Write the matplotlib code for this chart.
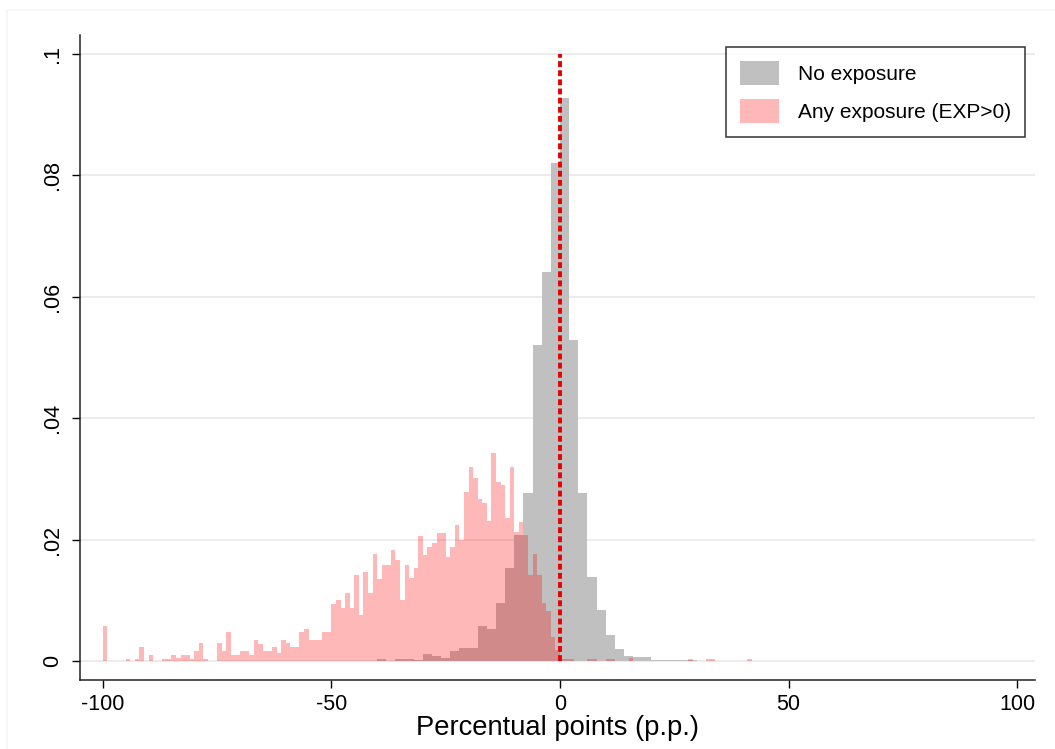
import numpy as np
import matplotlib
matplotlib.use('Agg')
import matplotlib.pyplot as plt
from matplotlib.patches import Patch, Rectangle

plt.rcParams['font.family'] = ['Liberation Sans', 'DejaVu Sans']

# histogram densities, bins of width 1 (any exposure) and width 2 (no exposure)
exp_left = list(range(-100, 42))
exp_dens = [
    0.0058, 0, 0, 0, 0, 0.0004, 0, 0.0003, 0.0023, 0,          # -100 .. -91
    0.0010, 0, 0, 0.0004, 0.0004, 0.0010, 0.0005, 0.0010, 0.0010, 0.0004,  # -90 .. -81
    0.0016, 0.0029, 0.0003, 0, 0, 0.0029, 0.0017, 0.0047, 0.0010, 0.0010,  # -80 .. -71
    0.0017, 0.0017, 0.0010, 0.0035, 0.0028, 0.0016, 0.0017, 0.0023, 0.0013, 0.0035,  # -70 .. -61
    0.0030, 0.0023, 0.0023, 0.0047, 0.0052, 0.0034, 0.0035, 0.0035, 0.0047, 0.0047,  # -60 .. -51
    0.0094, 0.0100, 0.0087, 0.0112, 0.0087, 0.0142, 0.0076, 0.0147, 0.0112, 0.0177,  # -50 .. -41
    0.0135, 0.0158, 0.0158, 0.0183, 0.0166, 0.0100, 0.0158, 0.0137, 0.0153, 0.0206,  # -40 .. -31
    0.0175, 0.0188, 0.0195, 0.0211, 0.0211, 0.0172, 0.0188, 0.0224, 0.0199, 0.0279,  # -30 .. -21
    0.0320, 0.0301, 0.0266, 0.0260, 0.0231, 0.0343, 0.0295, 0.0290, 0.0236, 0.0320,  # -20 .. -11
    0.0212, 0.0229, 0.0208, 0.0142, 0.0177, 0.0142, 0.0095, 0.0082, 0.0040, 0.0018,  # -10 .. -1
    0.0003, 0.0003, 0.0003, 0, 0, 0, 0.0003, 0.0003, 0, 0,          # 0 .. 9
    0.0003, 0.0003, 0, 0, 0, 0.0005, 0, 0, 0, 0,                    # 10 .. 19
    0, 0, 0, 0, 0, 0, 0, 0, 0.0003, 0,                              # 20 .. 29
    0, 0, 0.0003, 0.0003, 0, 0, 0, 0, 0, 0,                         # 30 .. 39
    0, 0.0004,                                                      # 40 .. 41
]

noexp_left = list(range(-40, 30, 2))
noexp_dens = [
    0.0004, 0, 0.0003, 0.0004, 0.0002, 0.0011, 0.0008, 0.0005, 0.0017, 0.0021,   # -40 .. -22
    0.0021, 0.0057, 0.0053, 0.0095, 0.0153, 0.0208, 0.0276, 0.0521, 0.0641, 0.0821,  # -20 .. -2
    0.0927, 0.0529, 0.0276, 0.0138, 0.0084, 0.0043, 0.0020, 0.0008, 0.0007, 0.0007,  # 0 .. 18
    0.0002, 0.0002, 0.0002, 0.0002, 0.0002,                                          # 20 .. 28
]

xticks = [-100, -50, 0, 50, 100]
yticks = [0, 0.02, 0.04, 0.06, 0.08, 0.1]
ytick_labels = ['0', '.02', '.04', '.06', '.08', '.1']

gray = '#c0c0c0'
pink_alpha = 0.28

fig = plt.figure(figsize=(10.55, 7.49), dpi=100)
fig.patches.append(Rectangle((7 / 1055, -0.01), 1, 1.01 - 10 / 749, transform=fig.transFigure,
                             facecolor='none', edgecolor='#f6f6f6', lw=1.2))
ax = fig.add_axes([80 / 1055, 1 - 680 / 749, (1035 - 80) / 1055, (680 - 35) / 749])

for y in yticks:
    ax.axhline(y, color='#eaeaea', lw=1.3, zorder=0)

ax.bar(noexp_left, noexp_dens, width=2, align='edge', color=gray, lw=0, zorder=1)
ax.bar(exp_left, exp_dens, width=1, align='edge', color='red', alpha=pink_alpha, lw=0, zorder=2)

# reference line at zero change
ax.plot([0, 0], [0, 0.1], color='#e60000', lw=2.8, linestyle=(0, (1.5, 0.85)),
        solid_capstyle='butt', dash_capstyle='butt', zorder=3)

ax.set_xlim(-105.0, 103.9)
ax.set_ylim(-0.00313, 0.1031)
ax.set_xticks(xticks)
ax.set_xticklabels([str(t) for t in xticks])
ax.set_yticks(yticks)
ax.set_yticklabels(ytick_labels, rotation=90, va='center')
ax.tick_params(axis='both', direction='out', length=6, width=1, labelsize=15.5, colors='black')
ax.tick_params(axis='x', pad=4)
ax.tick_params(axis='y', pad=6)

for side in ['top', 'right']:
    ax.spines[side].set_visible(False)
for side in ['left', 'bottom']:
    ax.spines[side].set_linewidth(1.1)
    ax.spines[side].set_color('#222222')

ax.set_xlabel('Percentual points (p.p.)', fontsize=19.7, labelpad=0)

handles = [Patch(facecolor=gray, edgecolor='none'),
           Patch(facecolor=(1, 0, 0, pink_alpha), edgecolor='none')]
leg = ax.legend(handles, ['No exposure', 'Any exposure (EXP>0)'], loc='upper right',
                bbox_to_anchor=(1025 / 1055, 1 - 47 / 749), bbox_transform=fig.transFigure,
                fontsize=15, frameon=True, fancybox=False, edgecolor='black',
                handlelength=1.85, handleheight=1.35, handletextpad=0.9, borderpad=0.68,
                labelspacing=0.7, borderaxespad=0)
leg.get_frame().set_linewidth(1.1)

fig.savefig('out.png', dpi=100, facecolor='white')
